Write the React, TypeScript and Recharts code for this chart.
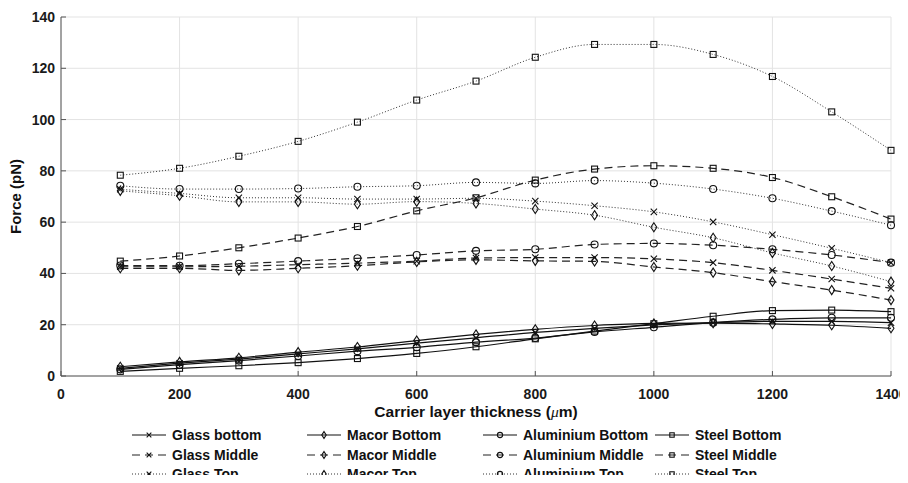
import { LineChart, Line, XAxis, YAxis, CartesianGrid } from 'recharts';

// carrier layer thickness (um)
const thickness = [100, 200, 300, 400, 500, 600, 700, 800, 900, 1000, 1100, 1200, 1300, 1400];

// force values (pN)
const glassBottom = [3.0, 5.0, 6.6, 8.6, 10.6, 12.8, 14.9, 17.0, 18.6, 19.9, 20.8, 21.3, 21.3, 20.8];
const macorBottom = [3.6, 5.5, 7.1, 9.3, 11.3, 13.8, 16.2, 18.2, 19.7, 20.5, 20.6, 20.3, 19.8, 18.6];
const aluminiumBottom = [2.6, 4.4, 6.0, 7.8, 9.7, 11.2, 13.2, 14.8, 17.2, 19.0, 20.8, 22.1, 22.7, 22.7];
const steelBottom = [1.8, 3.0, 4.0, 5.2, 6.8, 8.8, 11.4, 14.5, 17.5, 20.4, 23.3, 25.5, 25.7, 25.1];

const glassMiddle = [42.6, 42.6, 42.8, 43.4, 44.0, 44.8, 46.0, 46.2, 46.2, 45.7, 44.2, 41.2, 37.8, 34.2];
const macorMiddle = [42.0, 42.0, 41.2, 42.0, 43.0, 44.5, 45.3, 44.9, 44.7, 42.5, 40.3, 36.8, 33.5, 29.6];
const aluminiumMiddle = [43.1, 43.0, 43.8, 44.8, 45.9, 47.2, 48.8, 49.4, 51.3, 51.7, 51.0, 49.4, 47.2, 44.2];
const steelMiddle = [44.8, 46.8, 50.0, 53.8, 58.3, 64.4, 69.5, 76.4, 80.7, 82.0, 81.0, 77.4, 69.9, 61.2];

const glassTop = [72.8, 71.2, 69.5, 69.5, 69.0, 69.0, 69.3, 68.2, 66.4, 64.0, 60.1, 55.1, 49.8, 44.2];
const macorTop = [72.2, 70.3, 67.9, 67.9, 67.0, 68.0, 67.3, 65.1, 62.7, 58.0, 53.9, 48.0, 42.9, 36.8];
const aluminiumTop = [74.2, 72.9, 72.9, 73.1, 73.8, 74.2, 75.5, 75.1, 76.2, 75.2, 72.9, 69.3, 64.3, 58.8];
const steelTop = [78.3, 81.0, 85.7, 91.5, 99.0, 107.6, 115.0, 124.3, 129.3, 129.3, 125.4, 116.8, 103.0, 88.0];

const xTicks = [0, 200, 400, 600, 800, 1000, 1200, 1400];
const yTicks = [0, 20, 40, 60, 80, 100, 120, 140];

type Kind = 'cross' | 'diamond' | 'circle' | 'square';
type Style = 'solid' | 'dashed' | 'dotted';

interface Serie {
    key: string;
    name: string;
    values: number[];
    kind: Kind;
    style: Style;
}

// legend order is column by column (one column per material)
const series: Serie[] = [
    { key: 'glassBottom', name: 'Glass bottom', values: glassBottom, kind: 'cross', style: 'solid' },
    { key: 'glassMiddle', name: 'Glass Middle', values: glassMiddle, kind: 'cross', style: 'dashed' },
    { key: 'glassTop', name: 'Glass Top', values: glassTop, kind: 'cross', style: 'dotted' },
    { key: 'macorBottom', name: 'Macor Bottom', values: macorBottom, kind: 'diamond', style: 'solid' },
    { key: 'macorMiddle', name: 'Macor Middle', values: macorMiddle, kind: 'diamond', style: 'dashed' },
    { key: 'macorTop', name: 'Macor Top', values: macorTop, kind: 'diamond', style: 'dotted' },
    { key: 'aluminiumBottom', name: 'Aluminium Bottom', values: aluminiumBottom, kind: 'circle', style: 'solid' },
    { key: 'aluminiumMiddle', name: 'Aluminium Middle', values: aluminiumMiddle, kind: 'circle', style: 'dashed' },
    { key: 'aluminiumTop', name: 'Aluminium Top', values: aluminiumTop, kind: 'circle', style: 'dotted' },
    { key: 'steelBottom', name: 'Steel Bottom', values: steelBottom, kind: 'square', style: 'solid' },
    { key: 'steelMiddle', name: 'Steel Middle', values: steelMiddle, kind: 'square', style: 'dashed' },
    { key: 'steelTop', name: 'Steel Top', values: steelTop, kind: 'square', style: 'dotted' },
];

const data = thickness.map((t, i) => {
    const row: any = { t };
    series.forEach((s) => {
        row[s.key] = s.values[i];
    });
    return row;
});

const lineStyles: Record<Style, { stroke: string; strokeWidth: number; strokeDasharray?: string }> = {
    solid: { stroke: '#111', strokeWidth: 1.2 },
    dashed: { stroke: '#222', strokeWidth: 1.2, strokeDasharray: '8 5' },
    dotted: { stroke: '#333', strokeWidth: 1, strokeDasharray: '1 2' },
};

const FONT = '"Liberation Sans", Arial, Helvetica, sans-serif';

function Marker({ kind, cx, cy, r }: { kind: Kind; cx: number; cy: number; r: number }) {
    const common = { fill: 'none', stroke: '#111', strokeWidth: 1.1 };
    if (kind === 'cross') {
        const d = r * 0.9;
        return (
            <path
                d={`M${cx - d},${cy - d}L${cx + d},${cy + d}M${cx - d},${cy + d}L${cx + d},${cy - d}`}
                {...common}
            />
        );
    }
    if (kind === 'diamond') {
        return (
            <path
                d={`M${cx},${cy - r * 1.3}L${cx + r * 0.85},${cy}L${cx},${cy + r * 1.3}L${cx - r * 0.85},${cy}Z`}
                {...common}
            />
        );
    }
    if (kind === 'circle') {
        return <circle cx={cx} cy={cy} r={r} {...common} />;
    }
    return <rect x={cx - r * 0.85} y={cy - r * 0.85} width={r * 1.7} height={r * 1.7} {...common} />;
}

// legend: 4 columns x 3 rows, centered under the figure
const legendColX = [124, 299, 475, 647];
const legendRowY = [427, 447, 466];

function ChartLegend() {
    return (
        <svg
            width={900}
            height={475}
            style={{ position: 'absolute', left: 0, top: 0, pointerEvents: 'none' }}
        >
            {series.map((s, i) => {
                const x = legendColX[Math.floor(i / 3)];
                const y = legendRowY[i % 3];
                const ls = lineStyles[s.style];
                return (
                    <g key={s.key}>
                        <line
                            x1={x}
                            x2={x + 34}
                            y1={y}
                            y2={y}
                            stroke={ls.stroke}
                            strokeWidth={ls.strokeWidth}
                            strokeDasharray={ls.strokeDasharray}
                        />
                        <Marker kind={s.kind} cx={x + 17} cy={y} r={2.6} />
                        <text
                            x={x + 40}
                            y={y + 5}
                            fontSize={14}
                            fontWeight="bold"
                            fontFamily={FONT}
                            fill="#111"
                        >
                            {s.name}
                        </text>
                    </g>
                );
            })}
        </svg>
    );
}

export default function App() {
    return (
        <div style={{ position: 'relative', width: 900, height: 467, fontFamily: FONT }}>
            <LineChart
                width={900}
                height={467}
                data={data}
                margin={{ top: 9, right: 17, left: 0, bottom: 0 }}
            >
                <CartesianGrid stroke="#e3e3e3" strokeWidth={1} />
                <XAxis
                    dataKey="t"
                    type="number"
                    domain={[0, 1400]}
                    ticks={xTicks}
                    height={99}
                    tickSize={-5}
                    tickMargin={18}
                    tick={{ fill: '#1a1a1a', fontSize: 14, fontWeight: 'bold', fontFamily: FONT }}
                    axisLine={{ stroke: '#555' }}
                    tickLine={{ stroke: '#555' }}
                    label={{
                        content: (props: any) => {
                            const vb = props.viewBox;
                            return (
                                <text
                                    x={vb.x + vb.width / 2}
                                    y={vb.y + 41}
                                    textAnchor="middle"
                                    fontSize={15.5}
                                    fontWeight="bold"
                                    fontFamily={FONT}
                                    fill="#111"
                                >
                                    Carrier layer thickness (
                                    <tspan fontStyle="italic" fontWeight="normal" fontFamily='"Liberation Serif", serif'>
                                        μ
                                    </tspan>
                                    m)
                                </text>
                            );
                        },
                    }}
                />
                <YAxis
                    type="number"
                    domain={[0, 140]}
                    ticks={yTicks}
                    width={53}
                    tickSize={-5}
                    tickMargin={11}
                    tick={{ fill: '#1a1a1a', fontSize: 14, fontWeight: 'bold', fontFamily: FONT }}
                    axisLine={{ stroke: '#555' }}
                    tickLine={{ stroke: '#555' }}
                    label={{
                        content: (props: any) => {
                            const vb = props.viewBox;
                            const cy = vb.y + vb.height / 2;
                            return (
                                <text
                                    x={13}
                                    y={cy}
                                    transform={`rotate(-90, 13, ${cy})`}
                                    textAnchor="middle"
                                    fontSize={15}
                                    fontWeight="bold"
                                    fontFamily={FONT}
                                    fill="#111"
                                >
                                    Force (pN)
                                </text>
                            );
                        },
                    }}
                />
                {series.map((s) => {
                    const ls = lineStyles[s.style];
                    return (
                        <Line
                            key={s.key}
                            dataKey={s.key}
                            name={s.name}
                            type="monotone"
                            stroke={ls.stroke}
                            strokeWidth={ls.strokeWidth}
                            strokeDasharray={ls.strokeDasharray}
                            isAnimationActive={false}
                            activeDot={false}
                            dot={(p: any) => (
                                <Marker key={`${s.key}-${p.index}`} kind={s.kind} cx={p.cx} cy={p.cy} r={3.5} />
                            )}
                        />
                    );
                })}
            </LineChart>
            <ChartLegend />
        </div>
    );
}
